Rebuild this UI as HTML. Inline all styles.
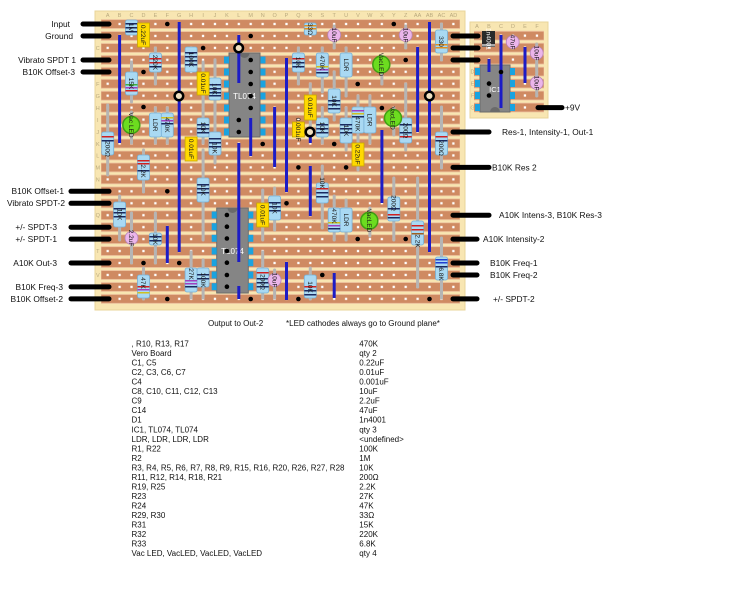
<!DOCTYPE html>
<html><head><meta charset="utf-8"><style>
html,body{margin:0;padding:0;background:#fff;}
svg{display:block;font-family:"Liberation Sans",Arial,sans-serif;}
</style></head><body>
<svg width="750" height="610" viewBox="0 0 750 610" xmlns="http://www.w3.org/2000/svg">
<defs>
<pattern id="st" x="101" y="18.05" width="360" height="11.95" patternUnits="userSpaceOnUse"><rect x="0" y="1.6" width="359" height="8.8" fill="#cf8a62" stroke="#ebbd9a" stroke-width="0.8"/></pattern>
<pattern id="ho" x="101.74" y="18.05" width="11.92" height="11.95" patternUnits="userSpaceOnUse"><rect x="4.8" y="4.8" width="2.3" height="2.3" fill="#fff"/></pattern>
<pattern id="st2" x="473" y="29.7" width="80" height="11.97" patternUnits="userSpaceOnUse"><rect x="0" y="1.6" width="71" height="8.8" fill="#cf8a62" stroke="#ebbd9a" stroke-width="0.8"/></pattern>
<pattern id="ho2" x="471" y="29.7" width="12" height="11.97" patternUnits="userSpaceOnUse"><rect x="4.8" y="4.8" width="2.3" height="2.3" fill="#fff"/></pattern>
</defs>

<!-- main board -->
<rect x="95" y="11" width="370" height="299" fill="#f8e6b2" stroke="#e8d49a" stroke-width="1"/>
<rect x="101" y="18.05" width="359" height="286.8" fill="url(#st)"/>
<rect x="101.74" y="18.05" width="357.6" height="286.8" fill="url(#ho)"/>
<g font-size="5.5" fill="#b9a97e" text-anchor="middle">
<text x="107.7" y="17">A</text><text x="119.6" y="17">B</text><text x="131.5" y="17">C</text><text x="143.5" y="17">D</text><text x="155.4" y="17">E</text><text x="167.3" y="17">F</text><text x="179.2" y="17">G</text><text x="191.1" y="17">H</text><text x="203.1" y="17">I</text><text x="215" y="17">J</text><text x="226.9" y="17">K</text><text x="238.8" y="17">L</text><text x="250.7" y="17">M</text><text x="262.7" y="17">N</text><text x="274.6" y="17">O</text><text x="286.5" y="17">P</text><text x="298.4" y="17">Q</text><text x="310.3" y="17">R</text><text x="322.3" y="17">S</text><text x="334.2" y="17">T</text><text x="346.1" y="17">U</text><text x="358" y="17">V</text><text x="369.9" y="17">W</text><text x="381.9" y="17">X</text><text x="393.8" y="17">Y</text><text x="405.7" y="17">Z</text><text x="417.6" y="17">AA</text><text x="429.5" y="17">AB</text><text x="441.5" y="17">AC</text><text x="453.4" y="17">AD</text>
<text x="97.8" y="26">A</text><text x="97.8" y="38">B</text><text x="97.8" y="50">C</text><text x="97.8" y="62">D</text><text x="97.8" y="74">E</text><text x="97.8" y="86">F</text><text x="97.8" y="98">G</text><text x="97.8" y="110">H</text><text x="97.8" y="122">I</text><text x="97.8" y="134">J</text><text x="97.8" y="146">K</text><text x="97.8" y="157.5">L</text><text x="97.8" y="169.4">M</text><text x="97.8" y="181.4">N</text><text x="97.8" y="193.3">O</text><text x="97.8" y="205.3">P</text><text x="97.8" y="217.2">Q</text><text x="97.8" y="229.2">R</text><text x="97.8" y="241.1">S</text><text x="97.8" y="253.1">T</text><text x="97.8" y="265">U</text><text x="97.8" y="277">V</text><text x="97.8" y="288.9">W</text><text x="97.8" y="300.9">X</text>
</g>

<!-- small board -->
<rect x="470" y="22" width="78" height="96" fill="#f8e6b2" stroke="#e8d49a" stroke-width="1"/>
<rect x="474" y="29.7" width="70" height="83.8" fill="url(#st2)"/>
<rect x="471" y="29.7" width="72" height="83.8" fill="url(#ho2)"/>
<g font-size="5.5" fill="#b9a97e" text-anchor="middle">
<text x="477" y="28">A</text><text x="489" y="28">B</text><text x="501" y="28">C</text><text x="513" y="28">D</text><text x="525" y="28">E</text><text x="537" y="28">F</text>
<text x="472.5" y="73.6">D</text><text x="472.5" y="85.6">E</text><text x="472.5" y="97.5">F</text><text x="472.5" y="109.5">G</text>
</g>

<!-- gray leads -->
<g stroke="#b5b5b5" stroke-width="3" stroke-linecap="round">
<line x1="155.4" y1="48" x2="155.4" y2="84"/>
<line x1="131.5" y1="62" x2="131.5" y2="102"/>
<line x1="203.1" y1="62" x2="203.1" y2="106"/>
<line x1="215" y1="60" x2="215" y2="120"/>
<line x1="131.5" y1="112" x2="131.5" y2="143"/>
<line x1="155.4" y1="108" x2="155.4" y2="143"/>
<line x1="167.3" y1="108" x2="167.3" y2="143"/>
<line x1="107.7" y1="105" x2="107.7" y2="175"/>
<line x1="203.1" y1="108" x2="203.1" y2="143"/>
<line x1="215" y1="122" x2="215" y2="163"/>
<line x1="143.5" y1="150" x2="143.5" y2="192"/>
<line x1="334.2" y1="26" x2="334.2" y2="48"/>
<line x1="405.7" y1="26" x2="405.7" y2="48"/>
<line x1="441.5" y1="24" x2="441.5" y2="60"/>
<line x1="298.4" y1="48" x2="298.4" y2="84"/>
<line x1="322.3" y1="48" x2="322.3" y2="92"/>
<line x1="346.1" y1="48" x2="346.1" y2="96"/>
<line x1="381.9" y1="56" x2="381.9" y2="84"/>
<line x1="334.2" y1="72" x2="334.2" y2="120"/>
<line x1="310.3" y1="84" x2="310.3" y2="128"/>
<line x1="322.3" y1="108" x2="322.3" y2="143"/>
<line x1="346.1" y1="108" x2="346.1" y2="150"/>
<line x1="358" y1="96" x2="358" y2="143"/>
<line x1="369.9" y1="96" x2="369.9" y2="143"/>
<line x1="393.8" y1="108" x2="393.8" y2="135"/>
<line x1="405.7" y1="84" x2="405.7" y2="150"/>
<line x1="441.5" y1="107" x2="441.5" y2="168"/>
<line x1="358" y1="143" x2="358" y2="170"/>
<line x1="203.1" y1="150" x2="203.1" y2="240"/>
<line x1="119.6" y1="196" x2="119.6" y2="240"/>
<line x1="155.4" y1="213" x2="155.4" y2="263"/>
<line x1="131.5" y1="213" x2="131.5" y2="263"/>
<line x1="262.7" y1="190" x2="262.7" y2="240"/>
<line x1="274.6" y1="188" x2="274.6" y2="230"/>
<line x1="143.5" y1="268" x2="143.5" y2="299"/>
<line x1="191.1" y1="252" x2="191.1" y2="298"/>
<line x1="203.1" y1="260" x2="203.1" y2="298"/>
<line x1="262.7" y1="252" x2="262.7" y2="298"/>
<line x1="274.6" y1="270" x2="274.6" y2="298"/>
<line x1="322.3" y1="166" x2="322.3" y2="228"/>
<line x1="334.2" y1="196" x2="334.2" y2="240"/>
<line x1="346.1" y1="200" x2="346.1" y2="240"/>
<line x1="369.9" y1="208" x2="369.9" y2="236"/>
<line x1="393.8" y1="178" x2="393.8" y2="240"/>
<line x1="417.6" y1="178" x2="417.6" y2="287"/>
<line x1="441.5" y1="238" x2="441.5" y2="298"/>
<line x1="310.3" y1="268" x2="310.3" y2="299"/>
<line x1="536.7" y1="44" x2="536.7" y2="96"/>
<line x1="512.7" y1="36" x2="512.7" y2="48"/>
</g>

<!-- ICs -->
<g>
<rect x="229" y="53" width="31" height="84" fill="#858585" stroke="#6a6a6a"/>
<path d="M239.5 53 a5 5 0 0 0 10 0 z" fill="#6a6a6a"/>
<text x="244.5" y="99" font-size="8" fill="#fff" text-anchor="middle">TL074</text>
<g fill="#19a3e0">
<rect x="224" y="56.5" width="5" height="7"/><rect x="224" y="68.5" width="5" height="7"/><rect x="224" y="80.5" width="5" height="7"/><rect x="224" y="92.5" width="5" height="7"/><rect x="224" y="104.5" width="5" height="7"/><rect x="224" y="116.5" width="5" height="7"/><rect x="224" y="128.5" width="5" height="7"/>
<rect x="260.5" y="56.5" width="5" height="7"/><rect x="260.5" y="68.5" width="5" height="7"/><rect x="260.5" y="80.5" width="5" height="7"/><rect x="260.5" y="92.5" width="5" height="7"/><rect x="260.5" y="104.5" width="5" height="7"/><rect x="260.5" y="116.5" width="5" height="7"/><rect x="260.5" y="128.5" width="5" height="7"/>
</g>
<rect x="216.7" y="208" width="31.6" height="85" fill="#858585" stroke="#6a6a6a"/>
<path d="M227.5 208 a5 5 0 0 0 10 0 z" fill="#6a6a6a"/>
<text x="232.5" y="254" font-size="8" fill="#fff" text-anchor="middle">TL074</text>
<g fill="#19a3e0">
<rect x="211.7" y="211.5" width="5" height="7"/><rect x="211.7" y="223.2" width="5" height="7"/><rect x="211.7" y="234.8" width="5" height="7"/><rect x="211.7" y="247.5" width="5" height="7"/><rect x="211.7" y="259.2" width="5" height="7"/><rect x="211.7" y="271.5" width="5" height="7"/><rect x="211.7" y="283.2" width="5" height="7"/>
<rect x="248.3" y="211.5" width="5" height="7"/><rect x="248.3" y="223.2" width="5" height="7"/><rect x="248.3" y="234.8" width="5" height="7"/><rect x="248.3" y="247.5" width="5" height="7"/><rect x="248.3" y="259.2" width="5" height="7"/><rect x="248.3" y="271.5" width="5" height="7"/><rect x="248.3" y="283.2" width="5" height="7"/>
</g>
<rect x="480" y="65" width="30" height="47" fill="#858585" stroke="#6a6a6a"/>
<path d="M490 112 a5 5 0 0 1 10 0 z" fill="#6a6a6a"/>
<text x="495" y="92" font-size="7.5" fill="#fff" text-anchor="middle">IC1</text>
<g fill="#19a3e0">
<rect x="475" y="68" width="5" height="7"/><rect x="475" y="80" width="5" height="7"/><rect x="475" y="92" width="5" height="7"/><rect x="475" y="104" width="5" height="7"/>
<rect x="510" y="68" width="5" height="7"/><rect x="510" y="80" width="5" height="7"/><rect x="510" y="92" width="5" height="7"/><rect x="510" y="104" width="5" height="7"/>
</g>
</g>

<!-- resistors / LDRs -->
<g stroke="#76b0d6" stroke-width="0.8" fill="#a9d9f3">
<rect x="125.5" y="20" width="12" height="15" rx="2"/>
<rect x="149.4" y="53" width="12" height="19" rx="2"/>
<rect x="125.5" y="72" width="12" height="23" rx="2"/>
<rect x="185.1" y="47" width="12" height="25" rx="2"/>
<rect x="209" y="78" width="12" height="22" rx="2"/>
<rect x="149.4" y="113" width="12" height="24" rx="2"/>
<rect x="161.3" y="113" width="12" height="24" rx="2"/>
<rect x="101.7" y="132" width="12" height="23" rx="2"/>
<rect x="197.1" y="118" width="12" height="19" rx="2"/>
<rect x="209" y="132" width="12" height="23" rx="2"/>
<rect x="137.5" y="155" width="12" height="25" rx="2"/>
<rect x="304.3" y="23" width="12" height="12" rx="2"/>
<rect x="435.5" y="30" width="12" height="23" rx="2"/>
<rect x="292.4" y="53" width="12" height="19" rx="2"/>
<rect x="316.3" y="53" width="12" height="24" rx="2"/>
<rect x="340.1" y="53" width="12" height="24" rx="2"/>
<rect x="328.2" y="89" width="12" height="24" rx="2"/>
<rect x="316.3" y="118" width="12" height="19" rx="2"/>
<rect x="340.1" y="118" width="12" height="25" rx="2"/>
<rect x="352" y="107" width="12" height="26" rx="2"/>
<rect x="363.9" y="107" width="12" height="26" rx="2"/>
<rect x="399.7" y="118" width="12" height="25" rx="2"/>
<rect x="435.5" y="132" width="12" height="23" rx="2"/>
<rect x="197.1" y="178" width="12" height="24" rx="2"/>
<rect x="113.6" y="202" width="12" height="25" rx="2"/>
<rect x="149.4" y="233" width="12" height="12" rx="2"/>
<rect x="268.6" y="196" width="12" height="24" rx="2"/>
<rect x="137.5" y="275" width="12" height="23" rx="2"/>
<rect x="185.1" y="268" width="12" height="24" rx="2"/>
<rect x="197.1" y="268" width="12" height="19" rx="2"/>
<rect x="256.7" y="268" width="12" height="25" rx="2"/>
<rect x="316.3" y="183" width="12" height="20" rx="2"/>
<rect x="328.2" y="208" width="12" height="24" rx="2"/>
<rect x="340.1" y="208" width="12" height="24" rx="2"/>
<rect x="387.8" y="197" width="12" height="24" rx="2"/>
<rect x="411.6" y="221" width="12" height="24" rx="2"/>
<rect x="435.5" y="257" width="12" height="23" rx="2"/>
<rect x="304.3" y="275" width="12" height="23" rx="2"/>
</g>
<!-- resistor bands -->
<g fill="#1a2a60">
<rect x="125.5" y="23" width="12" height="1.5"/><rect x="125.5" y="27" width="12" height="1.5"/><rect x="125.5" y="31" width="12" height="1.5"/>
<rect x="149.4" y="58" width="12" height="1.5" fill="#d02020"/><rect x="149.4" y="62" width="12" height="1.5" fill="#d02020"/><rect x="149.4" y="66" width="12" height="1.5"/>
<rect x="125.5" y="84" width="12" height="1.5" fill="#40b040"/><rect x="125.5" y="87" width="12" height="1.5" fill="#a040c0"/><rect x="125.5" y="90" width="12" height="1.5" fill="#d02020"/>
<rect x="185.1" y="52" width="12" height="1.5"/><rect x="185.1" y="56" width="12" height="1.5"/><rect x="185.1" y="60" width="12" height="1.5"/><rect x="185.1" y="64" width="12" height="1.5"/>
<rect x="209" y="84" width="12" height="1.5"/><rect x="209" y="88" width="12" height="1.5"/><rect x="209" y="92" width="12" height="1.5"/><rect x="209" y="95" width="12" height="1.5"/>
<rect x="161.3" y="117" width="12" height="1.5" fill="#d0c020"/><rect x="161.3" y="120" width="12" height="1.5" fill="#a040c0"/><rect x="161.3" y="123" width="12" height="1.5"/>
<rect x="101.7" y="136" width="12" height="1.5" fill="#d02020"/><rect x="101.7" y="140" width="12" height="1.5"/>
<rect x="197.1" y="124" width="12" height="1.5"/><rect x="197.1" y="128" width="12" height="1.5"/><rect x="197.1" y="132" width="12" height="1.5"/>
<rect x="209" y="138" width="12" height="1.5"/><rect x="209" y="142" width="12" height="1.5"/><rect x="209" y="146" width="12" height="1.5"/>
<rect x="137.5" y="160" width="12" height="1.5" fill="#d02020"/><rect x="137.5" y="163" width="12" height="1.5" fill="#d02020"/><rect x="137.5" y="170" width="12" height="1.5"/>
<rect x="304.3" y="25" width="12" height="1.5" fill="#e09020"/><rect x="304.3" y="28" width="12" height="1.5" fill="#e09020"/>
<rect x="435.5" y="44" width="12" height="1.5" fill="#e09020"/><rect x="435.5" y="47" width="12" height="1.5" fill="#e09020"/>
<rect x="292.4" y="58" width="12" height="1.5" fill="#d02020"/><rect x="292.4" y="62" width="12" height="1.5"/><rect x="292.4" y="66" width="12" height="1.5"/>
<rect x="316.3" y="66" width="12" height="1.5" fill="#d0c020"/><rect x="316.3" y="69" width="12" height="1.5" fill="#a040c0"/><rect x="316.3" y="72" width="12" height="1.5"/>
<rect x="328.2" y="100" width="12" height="1.5"/><rect x="328.2" y="104" width="12" height="1.5"/><rect x="328.2" y="108" width="12" height="1.5"/>
<rect x="316.3" y="124" width="12" height="1.5"/><rect x="316.3" y="128" width="12" height="1.5"/><rect x="316.3" y="132" width="12" height="1.5"/>
<rect x="340.1" y="124" width="12" height="1.5"/><rect x="340.1" y="128" width="12" height="1.5"/><rect x="340.1" y="132" width="12" height="1.5"/>
<rect x="352" y="110" width="12" height="1.5" fill="#a040c0"/><rect x="352" y="113" width="12" height="1.5" fill="#d0c020"/><rect x="352" y="116" width="12" height="1.5"/>
<rect x="399.7" y="124" width="12" height="1.5"/><rect x="399.7" y="132" width="12" height="1.5"/><rect x="399.7" y="136" width="12" height="1.5" fill="#d02020"/>
<rect x="435.5" y="136" width="12" height="1.5" fill="#d02020"/><rect x="435.5" y="140" width="12" height="1.5"/>
<rect x="197.1" y="184" width="12" height="1.5"/><rect x="197.1" y="188" width="12" height="1.5"/><rect x="197.1" y="192" width="12" height="1.5"/>
<rect x="113.6" y="208" width="12" height="1.5"/><rect x="113.6" y="212" width="12" height="1.5"/><rect x="113.6" y="216" width="12" height="1.5"/>
<rect x="149.4" y="236" width="12" height="1.5"/><rect x="149.4" y="240" width="12" height="1.5"/>
<rect x="268.6" y="202" width="12" height="1.5"/><rect x="268.6" y="206" width="12" height="1.5"/><rect x="268.6" y="210" width="12" height="1.5"/>
<rect x="137.5" y="286" width="12" height="1.5" fill="#d02020"/><rect x="137.5" y="289" width="12" height="1.5" fill="#a040c0"/><rect x="137.5" y="292" width="12" height="1.5" fill="#d0c020"/>
<rect x="185.1" y="280" width="12" height="1.5" fill="#a040c0"/><rect x="185.1" y="283" width="12" height="1.5" fill="#a040c0"/><rect x="185.1" y="286" width="12" height="1.5"/>
<rect x="197.1" y="274" width="12" height="1.5"/><rect x="197.1" y="278" width="12" height="1.5"/>
<rect x="256.7" y="272" width="12" height="1.5" fill="#d02020"/><rect x="256.7" y="278" width="12" height="1.5"/><rect x="256.7" y="282" width="12" height="1.5"/><rect x="256.7" y="286" width="12" height="1.5"/>
<rect x="316.3" y="188" width="12" height="1.5" fill="#d02020"/><rect x="316.3" y="192" width="12" height="1.5"/><rect x="316.3" y="196" width="12" height="1.5"/>
<rect x="328.2" y="222" width="12" height="1.5" fill="#d0c020"/><rect x="328.2" y="225" width="12" height="1.5" fill="#a040c0"/><rect x="328.2" y="228" width="12" height="1.5"/>
<rect x="387.8" y="208" width="12" height="1.5"/><rect x="387.8" y="214" width="12" height="1.5" fill="#d02020"/><rect x="387.8" y="217" width="12" height="1.5"/>
<rect x="411.6" y="225" width="12" height="1.5" fill="#d02020"/><rect x="411.6" y="229" width="12" height="1.5" fill="#d02020"/><rect x="411.6" y="233" width="12" height="1.5" fill="#a06020"/>
<rect x="435.5" y="259" width="12" height="1.5" fill="#2040d0"/><rect x="435.5" y="262" width="12" height="1.5" fill="#2040d0"/><rect x="435.5" y="266" width="12" height="1.5"/>
<rect x="304.3" y="286" width="12" height="1.5" fill="#d02020"/><rect x="304.3" y="290" width="12" height="1.5"/><rect x="304.3" y="294" width="12" height="1.5"/>
</g>

<!-- yellow caps -->
<g fill="#ffd900" stroke="#c9a700" stroke-width="0.8">
<rect x="137.5" y="23" width="12" height="24"/>
<rect x="197.1" y="72" width="12" height="23"/>
<rect x="185.1" y="137" width="12" height="24"/>
<rect x="304.3" y="95" width="12" height="25"/>
<rect x="292.4" y="122" width="12" height="15"/>
<rect x="352" y="143" width="12" height="23"/>
<rect x="256.7" y="203" width="12" height="24"/>
</g>
<!-- pink caps -->
<g fill="#ebb5ea" stroke="#b683b6" stroke-width="0.8">
<circle cx="334.2" cy="35" r="6.5"/>
<circle cx="405.7" cy="35" r="6.5"/>
<circle cx="131.5" cy="238" r="6.5"/>
<circle cx="274.6" cy="280" r="6.5"/>
<circle cx="512.7" cy="42" r="6.5"/>
<circle cx="536.7" cy="53" r="6.5"/>
<circle cx="536.7" cy="83" r="6.5"/>
</g>
<!-- LEDs -->
<g fill="#6cdc1f" stroke="#3f9f12" stroke-width="1.5">
<circle cx="131.3" cy="125" r="8.5"/>
<circle cx="381.3" cy="64.5" r="8.5"/>
<circle cx="393" cy="118" r="8.5"/>
<circle cx="369.3" cy="220.7" r="8.5"/>
</g>
<!-- diode -->
<rect x="482" y="31" width="13" height="16" fill="#2a2a2a"/>
<rect x="482" y="44" width="13" height="2.5" fill="#aaaaaa"/>

<!-- component labels -->
<g font-size="6.5" fill="#1a1a1a" text-anchor="middle">
<text transform="translate(129.2,27.5) rotate(90)">1M</text>
<text transform="translate(141.2,35) rotate(90)">0.22uF</text>
<text transform="translate(153.1,62.5) rotate(90)">220K</text>
<text transform="translate(129.2,83.5) rotate(90)">15K</text>
<text transform="translate(188.8,59.5) rotate(90)">100K</text>
<text transform="translate(200.8,83.5) rotate(90)">0.01uF</text>
<text transform="translate(212.7,89) rotate(90)">10K</text>
<text transform="translate(129,125) rotate(90)">Vac LED</text>
<text transform="translate(153.1,125) rotate(90)">LDR</text>
<text transform="translate(165,125) rotate(90)">470K</text>
<text transform="translate(105.4,149) rotate(90)">200Ω</text>
<text transform="translate(200.8,127.5) rotate(90)">10K</text>
<text transform="translate(212.7,148) rotate(90)">10K</text>
<text transform="translate(188.8,149) rotate(90)">0.01uF</text>
<text transform="translate(141.2,171) rotate(90)">2.2K</text>
<text transform="translate(308,29) rotate(90)">33Ω</text>
<text transform="translate(331.9,35) rotate(90)">10uF</text>
<text transform="translate(403.4,35) rotate(90)">10uF</text>
<text transform="translate(439.2,41.5) rotate(90)">330</text>
<text transform="translate(296.1,62.5) rotate(90)">10K</text>
<text transform="translate(320,63) rotate(90)">470K</text>
<text transform="translate(343.8,65) rotate(90)">LDR</text>
<text transform="translate(379,64.5) rotate(90)">VacLED</text>
<text transform="translate(331.9,101) rotate(90)">10K</text>
<text transform="translate(308,107.5) rotate(90)">0.01uF</text>
<text transform="translate(296.1,129.5) rotate(90)">0.001uF</text>
<text transform="translate(320,127.5) rotate(90)">10K</text>
<text transform="translate(343.8,130.5) rotate(90)">10K</text>
<text transform="translate(355.7,124) rotate(90)">470K</text>
<text transform="translate(367.6,120) rotate(90)">LDR</text>
<text transform="translate(390.7,118) rotate(90)">VacLED</text>
<text transform="translate(403.4,130.5) rotate(90)">200Ω</text>
<text transform="translate(439.2,148) rotate(90)">200Ω</text>
<text transform="translate(355.7,154.5) rotate(90)">0.22uF</text>
<text transform="translate(200.8,190) rotate(90)">10K</text>
<text transform="translate(117.3,214.5) rotate(90)">10K</text>
<text transform="translate(153.1,239) rotate(90)">10K</text>
<text transform="translate(129.2,238) rotate(90)">2.2uF</text>
<text transform="translate(260.4,215) rotate(90)">0.01uF</text>
<text transform="translate(272.3,208) rotate(90)">10K</text>
<text transform="translate(141.2,283) rotate(90)">47K</text>
<text transform="translate(188.8,274) rotate(90)">27K</text>
<text transform="translate(200.8,280) rotate(90)">100K</text>
<text transform="translate(260.4,282) rotate(90)">200Ω</text>
<text transform="translate(272.3,280) rotate(90)">10uF</text>
<text transform="translate(320,183) rotate(90)">10K</text>
<text transform="translate(331.9,216) rotate(90)">470K</text>
<text transform="translate(343.8,220) rotate(90)">LDR</text>
<text transform="translate(367,220.7) rotate(90)">VacLED</text>
<text transform="translate(391.5,203) rotate(90)">200Ω</text>
<text transform="translate(415.3,241) rotate(90)">2.2K</text>
<text transform="translate(439.2,274) rotate(90)">6.8K</text>
<text transform="translate(308,287) rotate(90)">10K</text>
<text transform="translate(510.4,42) rotate(90)">47uF</text>
<text transform="translate(534.4,53) rotate(90)">10uF</text>
<text transform="translate(534.4,83) rotate(90)">10uF</text>
<text transform="translate(486.3,39) rotate(90)" fill="#fff">1n4001</text>
</g>

<!-- blue jumpers -->
<g stroke="#1c1cc6" stroke-width="3">
<line x1="119.6" y1="35" x2="119.6" y2="143"/>
<line x1="179.2" y1="22" x2="179.2" y2="252"/>
<line x1="238.8" y1="35" x2="238.8" y2="83"/>
<line x1="250.7" y1="118" x2="250.7" y2="156"/>
<line x1="238.8" y1="143" x2="238.8" y2="262"/>
<line x1="238.8" y1="286" x2="238.8" y2="299"/>
<line x1="274.6" y1="107" x2="274.6" y2="167"/>
<line x1="286.5" y1="58" x2="286.5" y2="192"/>
<line x1="286.5" y1="262" x2="286.5" y2="300"/>
<line x1="167.3" y1="226" x2="167.3" y2="263"/>
<line x1="429.5" y1="22" x2="429.5" y2="252"/>
<line x1="417.6" y1="47" x2="417.6" y2="132"/>
<line x1="310.3" y1="132" x2="310.3" y2="143"/>
<line x1="310.3" y1="166" x2="310.3" y2="216"/>
<line x1="381.9" y1="130" x2="381.9" y2="203"/>
<line x1="334.2" y1="273" x2="334.2" y2="298"/>
<line x1="501" y1="35" x2="501" y2="108"/>
<line x1="525" y1="47" x2="525" y2="83"/>
<line x1="489" y1="59" x2="489" y2="72"/>
</g>

<!-- black dots -->
<g fill="#000">
<circle cx="167.3" cy="24" r="2.3"/><circle cx="143.5" cy="72" r="2.3"/><circle cx="143.5" cy="107" r="2.3"/><circle cx="203.1" cy="48" r="2.3"/>
<circle cx="250.7" cy="36" r="2.3"/><circle cx="250.7" cy="60" r="2.3"/><circle cx="250.7" cy="72" r="2.3"/><circle cx="250.7" cy="84" r="2.3"/><circle cx="250.7" cy="96" r="2.3"/><circle cx="250.7" cy="108" r="2.3"/>
<circle cx="238.8" cy="120" r="2.3"/><circle cx="238.8" cy="132" r="2.3"/><circle cx="262.7" cy="144" r="2.3"/>
<circle cx="393.8" cy="24" r="2.3"/><circle cx="405.7" cy="60" r="2.3"/><circle cx="357.7" cy="84" r="2.3"/><circle cx="381.9" cy="108" r="2.3"/><circle cx="334.2" cy="144" r="2.3"/>
<circle cx="167.3" cy="191.3" r="2.3"/><circle cx="143.5" cy="263" r="2.3"/><circle cx="179.2" cy="263" r="2.3"/><circle cx="167.3" cy="299" r="2.3"/><circle cx="250.7" cy="299" r="2.3"/>
<circle cx="226.9" cy="215" r="2.3"/><circle cx="226.9" cy="226.7" r="2.3"/><circle cx="226.9" cy="238.5" r="2.3"/><circle cx="226.9" cy="251" r="2.3"/><circle cx="226.9" cy="262.7" r="2.3"/><circle cx="226.9" cy="275" r="2.3"/><circle cx="226.9" cy="286.7" r="2.3"/>
<circle cx="298.4" cy="167.4" r="2.3"/><circle cx="346.1" cy="167.4" r="2.3"/><circle cx="286.5" cy="203.3" r="2.3"/><circle cx="357.7" cy="239" r="2.3"/><circle cx="405.7" cy="239" r="2.3"/><circle cx="322.3" cy="275" r="2.3"/><circle cx="298.4" cy="299" r="2.3"/><circle cx="429.5" cy="299" r="2.3"/>
<circle cx="501" cy="72" r="2.3"/><circle cx="489" cy="83.6" r="2.3"/><circle cx="489" cy="95.5" r="2.3"/>
</g>
<!-- rings -->
<g fill="#f0e0c0" stroke="#000" stroke-width="2.5">
<circle cx="178.9" cy="96" r="4.3"/><circle cx="238.7" cy="48" r="4.3"/><circle cx="429.4" cy="96" r="4.3"/><circle cx="310" cy="132" r="4.3"/>
</g>

<!-- black wires -->
<g stroke="#000" stroke-width="5" stroke-linecap="round">
<line x1="83" y1="24" x2="109" y2="24"/>
<line x1="83" y1="36" x2="109" y2="36"/>
<line x1="83" y1="60" x2="109" y2="60"/>
<line x1="83" y1="72" x2="109" y2="72"/>
<line x1="71" y1="191.3" x2="109" y2="191.3"/>
<line x1="71" y1="203.3" x2="109" y2="203.3"/>
<line x1="71" y1="227.2" x2="109" y2="227.2"/>
<line x1="71" y1="239.1" x2="109" y2="239.1"/>
<line x1="71" y1="263" x2="109" y2="263"/>
<line x1="71" y1="286.9" x2="109" y2="286.9"/>
<line x1="71" y1="298.9" x2="109" y2="298.9"/>
<line x1="453" y1="36" x2="478" y2="36"/>
<line x1="453" y1="48" x2="478" y2="48"/>
<line x1="453" y1="60" x2="478" y2="60"/>
<line x1="453" y1="132" x2="489" y2="132"/>
<line x1="453" y1="167.4" x2="489" y2="167.4"/>
<line x1="453" y1="215.2" x2="489" y2="215.2"/>
<line x1="453" y1="239.1" x2="477" y2="239.1"/>
<line x1="453" y1="263" x2="477" y2="263"/>
<line x1="453" y1="275" x2="477" y2="275"/>
<line x1="453" y1="298.9" x2="477" y2="298.9"/>
<line x1="538" y1="107.6" x2="562" y2="107.6"/>
</g>

<!-- labels -->
<g font-size="8.4" fill="#111">
<g text-anchor="end">
<text x="70" y="27">Input</text>
<text x="73" y="39">Ground</text>
<text x="76" y="63">Vibrato SPDT 1</text>
<text x="75" y="75">B10K Offset-3</text>
<text x="64" y="194">B10K Offset-1</text>
<text x="65" y="206">Vibrato SPDT-2</text>
<text x="57" y="230">+/- SPDT-3</text>
<text x="57" y="242">+/- SPDT-1</text>
<text x="57" y="266">A10K Out-3</text>
<text x="63" y="290">B10K Freq-3</text>
<text x="63" y="302">B10K Offset-2</text>
</g>
<text x="565" y="110.5">+9V</text>
<text x="502" y="135">Res-1, Intensity-1, Out-1</text>
<text x="492" y="170.5">B10K Res 2</text>
<text x="499" y="218">A10K Intens-3, B10K Res-3</text>
<text x="483" y="242">A10K Intensity-2</text>
<text x="490" y="266">B10K Freq-1</text>
<text x="490" y="278">B10K Freq-2</text>
<text x="493" y="302">+/- SPDT-2</text>
</g>
<g font-size="8" fill="#111">
<text x="208" y="326">Output to Out-2</text>
<text x="286" y="326">*LED cathodes always go to Ground plane*</text>
<g>
<text x="131.5" y="346.5">, R10, R13, R17</text>
<text x="131.5" y="356">Vero Board</text>
<text x="131.5" y="365.6">C1, C5</text>
<text x="131.5" y="375.1">C2, C3, C6, C7</text>
<text x="131.5" y="384.6">C4</text>
<text x="131.5" y="394.2">C8, C10, C11, C12, C13</text>
<text x="131.5" y="403.7">C9</text>
<text x="131.5" y="413.2">C14</text>
<text x="131.5" y="422.7">D1</text>
<text x="131.5" y="432.3">IC1, TL074, TL074</text>
<text x="131.5" y="441.8">LDR, LDR, LDR, LDR</text>
<text x="131.5" y="451.3">R1, R22</text>
<text x="131.5" y="460.9">R2</text>
<text x="131.5" y="470.4">R3, R4, R5, R6, R7, R8, R9, R15, R16, R20, R26, R27, R28</text>
<text x="131.5" y="479.9">R11, R12, R14, R18, R21</text>
<text x="131.5" y="489.4">R19, R25</text>
<text x="131.5" y="499">R23</text>
<text x="131.5" y="508.5">R24</text>
<text x="131.5" y="518">R29, R30</text>
<text x="131.5" y="527.6">R31</text>
<text x="131.5" y="537.1">R32</text>
<text x="131.5" y="546.6">R33</text>
<text x="131.5" y="556.1">Vac LED, VacLED, VacLED, VacLED</text>
</g>
<g>
<text x="359.3" y="346.5">470K</text>
<text x="359.3" y="356">qty 2</text>
<text x="359.3" y="365.6">0.22uF</text>
<text x="359.3" y="375.1">0.01uF</text>
<text x="359.3" y="384.6">0.001uF</text>
<text x="359.3" y="394.2">10uF</text>
<text x="359.3" y="403.7">2.2uF</text>
<text x="359.3" y="413.2">47uF</text>
<text x="359.3" y="422.7">1n4001</text>
<text x="359.3" y="432.3">qty 3</text>
<text x="359.3" y="441.8">&lt;undefined&gt;</text>
<text x="359.3" y="451.3">100K</text>
<text x="359.3" y="460.9">1M</text>
<text x="359.3" y="470.4">10K</text>
<text x="359.3" y="479.9">200Ω</text>
<text x="359.3" y="489.4">2.2K</text>
<text x="359.3" y="499">27K</text>
<text x="359.3" y="508.5">47K</text>
<text x="359.3" y="518">33Ω</text>
<text x="359.3" y="527.6">15K</text>
<text x="359.3" y="537.1">220K</text>
<text x="359.3" y="546.6">6.8K</text>
<text x="359.3" y="556.1">qty 4</text>
</g>
</g>
</svg>
</body></html>
